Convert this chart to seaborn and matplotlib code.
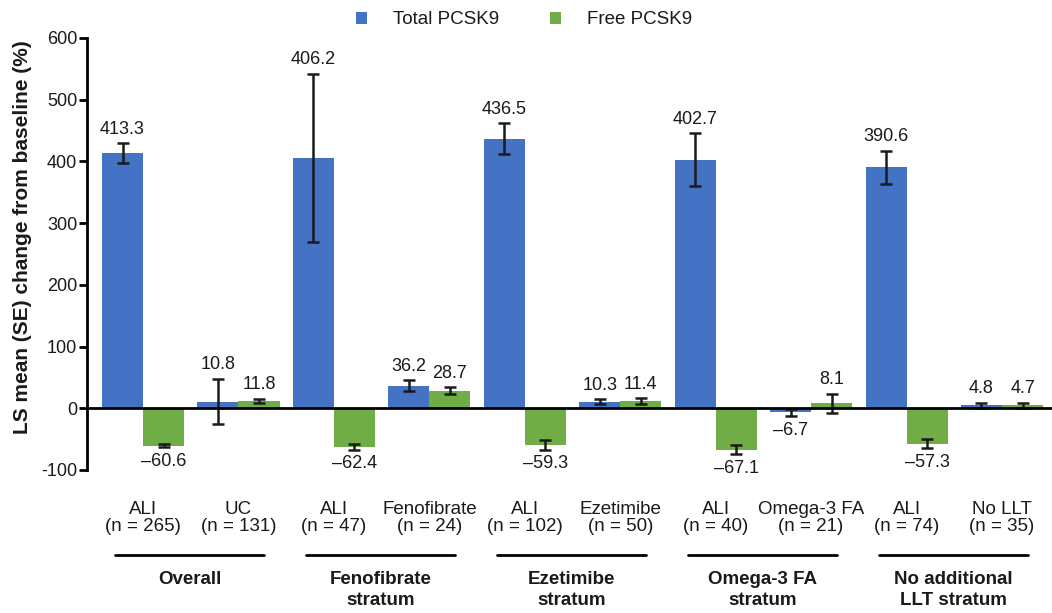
import matplotlib
matplotlib.use("Agg")
import matplotlib.pyplot as plt
import matplotlib.transforms as mtransforms
import pandas as pd
import seaborn as sns

# Treatment arms (x categories) and the strata they belong to
arms = [
    "ALI\n(n = 265)", "UC\n(n = 131)",
    "ALI\n(n = 47)", "Fenofibrate\n(n = 24)",
    "ALI\n(n = 102)", "Ezetimibe\n(n = 50)",
    "ALI\n(n = 40)", "Omega-3 FA\n(n = 21)",
    "ALI\n(n = 74)", "No LLT\n(n = 35)",
]
strata = [
    "Overall",
    "Fenofibrate\nstratum",
    "Ezetimibe\nstratum",
    "Omega-3 FA\nstratum",
    "No additional\nLLT stratum",
]
series = ["Total PCSK9", "Free PCSK9"]
palette = ["#4472C4", "#70AD47"]

# LS mean % change from baseline and standard errors
total_pcsk9 = [413.3, 10.8, 406.2, 36.2, 436.5, 10.3, 402.7, -6.7, 390.6, 4.8]
total_se = [16, 37, 136, 9, 25, 4, 43, 6, 27, 4]
free_pcsk9 = [-60.6, 11.8, -62.4, 28.7, -59.3, 11.4, -67.1, 8.1, -57.3, 4.7]
free_se = [2.5, 4, 5, 5.5, 7.5, 4.5, 7.5, 15, 7.5, 4]

yticks = [-100, 0, 100, 200, 300, 400, 500, 600]

df = pd.DataFrame({
    "arm": arms * 2,
    "series": [series[0]] * len(arms) + [series[1]] * len(arms),
    "value": total_pcsk9 + free_pcsk9,
})

sns.set_theme(style="white")
plt.rcParams["font.family"] = ["Liberation Sans", "DejaVu Sans"]
TXT = "#1a1a1a"

fig = plt.figure(figsize=(10.52, 6.13), dpi=100)
ax = fig.add_axes([87 / 1052, 1 - 470 / 613, 1 - 87 / 1052, 432 / 613])

sns.barplot(data=df, x="arm", y="value", hue="series", order=arms,
            hue_order=series, palette=palette, width=0.86, saturation=1,
            errorbar=None, linewidth=0, ax=ax)

# Error bars and value labels
for cont, vals, ses in zip(ax.containers, [total_pcsk9, free_pcsk9], [total_se, free_se]):
    for bar, v, s in zip(cont, vals, ses):
        x = bar.get_x() + bar.get_width() / 2
        ax.errorbar(x, v, yerr=s, color="#1a1a1a", lw=1.8, capsize=4,
                    capthick=1.8, zorder=4)
        label = f"{v:.1f}".replace("-", "\u2013")
        if v >= 0:
            ax.annotate(label, xy=(x, v + s), xytext=(0, 4), textcoords="offset points",
                        ha="center", va="bottom", fontsize=13, color=TXT)
        else:
            ax.annotate(label, xy=(x, v - s), xytext=(0, -4), textcoords="offset points",
                        ha="center", va="top", fontsize=13, color=TXT)

ax.axhline(0, color="black", lw=2, zorder=5)

ax.set_ylim(-100, 600)
ax.set_xlim(-0.587, 9.524)
ax.set_yticks(yticks)
ax.set_yticklabels([str(t) for t in yticks])
ax.tick_params(axis="y", direction="out", length=6, width=2, pad=1,
               labelsize=13, labelcolor=TXT, left=True, color="black")
ax.set_xticks(range(len(arms)))
ax.set_xticklabels(arms, fontsize=13.5, color=TXT, linespacing=1.0)
ax.tick_params(axis="x", length=0, pad=22)
ax.set_xlabel("")
ax.set_ylabel("LS mean (SE) change from baseline (%)", fontsize=15,
              fontweight="bold", color=TXT)
ax.yaxis.set_label_coords(-0.057, 0.538)

for side in ["top", "right", "bottom"]:
    ax.spines[side].set_visible(False)
ax.spines["left"].set_linewidth(2)
ax.spines["left"].set_color("black")

# Stratum brackets and labels below the arms
trans = mtransforms.blended_transform_factory(ax.transData, ax.transAxes)
for g, name in enumerate(strata):
    x0, x1 = 2 * g - 0.29, 2 * g + 1 + 0.27
    ax.plot([x0, x1], [-0.197, -0.197], color="black", lw=2,
            transform=trans, clip_on=False)
    ax.text((x0 + x1) / 2, -0.233, name, transform=trans, ha="center", va="top",
            fontsize=13.5, fontweight="bold", color=TXT, linespacing=1.3)

handles, labels = ax.get_legend_handles_labels()
ax.get_legend().remove()
fig.legend(handles, labels, loc="center", bbox_to_anchor=(524 / 1052, 1 - 20 / 613),
           ncol=2, frameon=False, fontsize=13.5, handlelength=0.6, handleheight=0.6,
           handletextpad=1.4, columnspacing=2.7, labelcolor=TXT)

fig.savefig("out.png", dpi=100)
